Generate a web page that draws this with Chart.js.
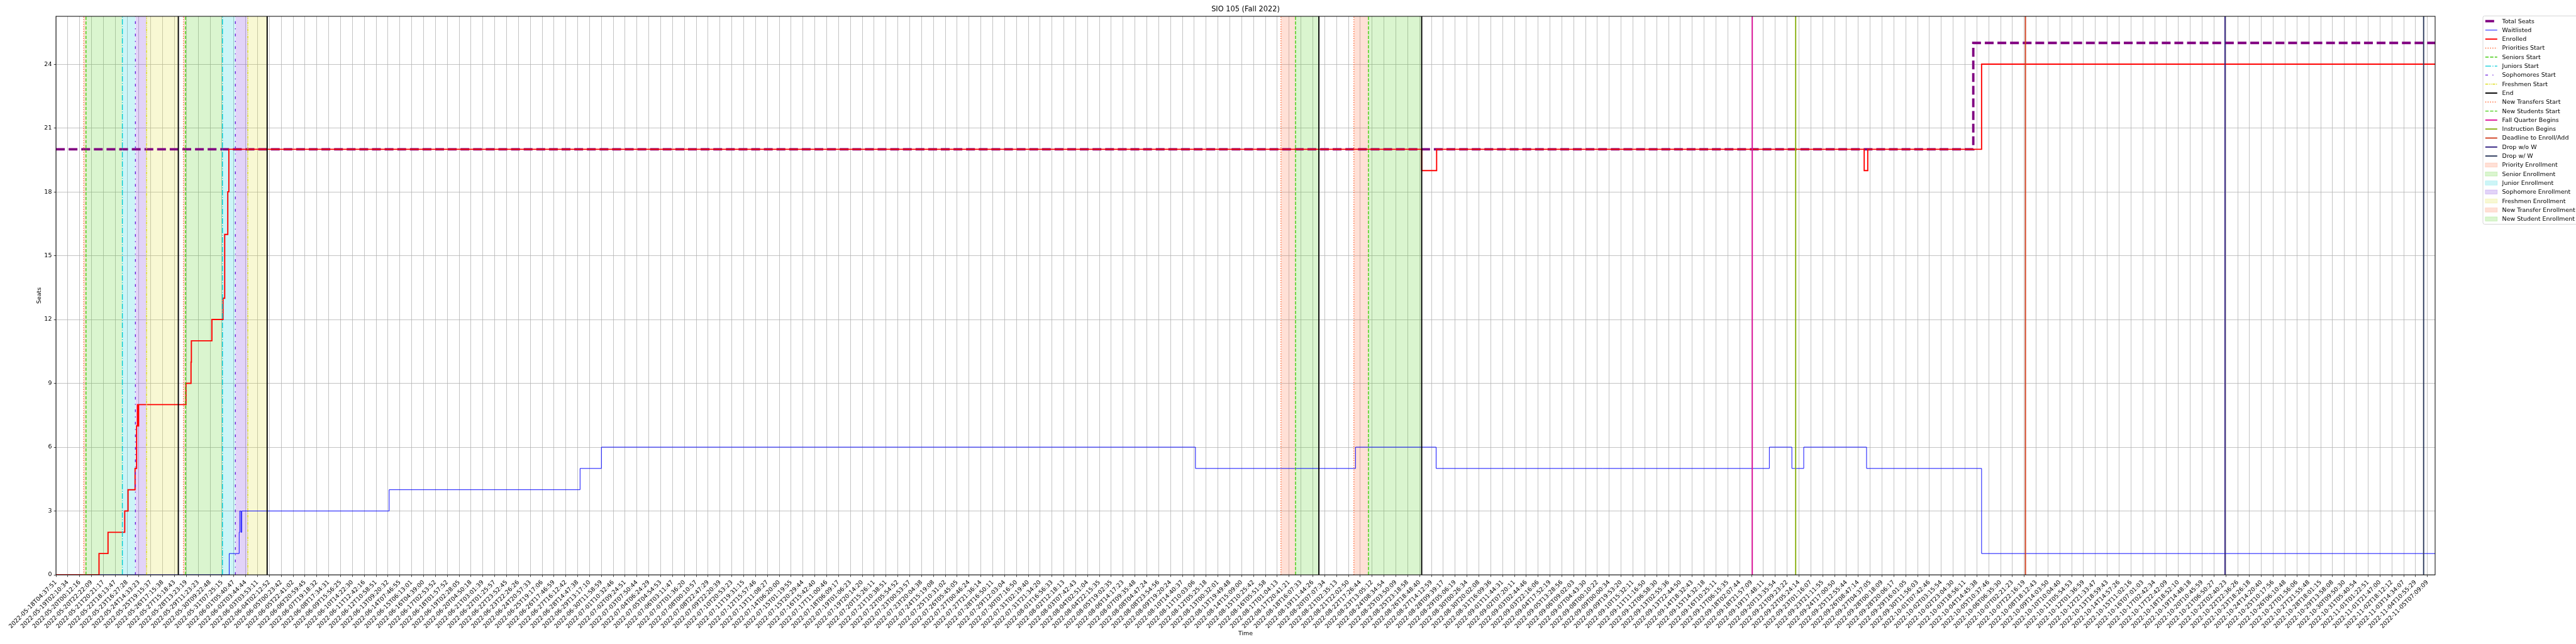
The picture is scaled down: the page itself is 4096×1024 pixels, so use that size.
<!DOCTYPE html>
<html>
<head>
<meta charset="utf-8">
<title>SIO 105 (Fall 2022)</title>
<script src="https://cdn.jsdelivr.net/npm/chart.js@4.4.1/dist/chart.umd.min.js"></script>
<style>
  html, body { margin: 0; padding: 0; background: #fff; }
  canvas { display: block; }
</style>
</head>
<body>
<canvas id="chart" width="4096" height="1024"></canvas>
<script>
/* global Chart */

// x positions are in "tick" units: tick i sits at x = i
const tickLabels = [
  "2022-05-18T04:37:51","2022-05-19T02:10:34","2022-05-20T00:12:16","2022-05-20T22:22:09","2022-05-21T20:21:17",
  "2022-05-22T18:13:47","2022-05-23T16:27:28","2022-05-24T14:33:23","2022-05-25T19:15:37","2022-05-26T17:15:38",
  "2022-05-27T15:18:43","2022-05-28T13:23:19","2022-05-29T11:23:23","2022-05-30T09:22:48","2022-05-31T07:25:15",
  "2022-06-01T05:40:47","2022-06-02T03:44:44","2022-06-03T03:53:11","2022-06-04T02:12:52","2022-06-05T00:23:42",
  "2022-06-05T22:41:02","2022-06-06T20:59:45","2022-06-07T19:18:32","2022-06-08T17:34:31","2022-06-09T15:56:25",
  "2022-06-10T14:22:30","2022-06-11T12:42:16","2022-06-12T10:58:51","2022-06-13T09:20:32","2022-06-14T07:46:55",
  "2022-06-15T06:13:01","2022-06-16T04:39:00","2022-06-17T02:53:52","2022-06-18T01:57:52","2022-06-19T02:28:05",
  "2022-06-20T04:50:18","2022-06-21T03:01:39","2022-06-22T01:25:57","2022-06-22T23:52:45","2022-06-23T22:26:26",
  "2022-06-24T20:57:33","2022-06-25T19:17:06","2022-06-26T17:46:59","2022-06-27T16:12:42","2022-06-28T14:47:38",
  "2022-06-29T13:17:10","2022-06-30T11:58:59","2022-07-01T10:32:46","2022-07-02T09:24:51","2022-07-03T07:50:44",
  "2022-07-04T06:24:29","2022-07-05T04:54:53","2022-07-06T03:11:47","2022-07-07T01:36:20","2022-07-08T00:10:57",
  "2022-07-08T22:47:29","2022-07-09T22:20:39","2022-07-10T20:53:23","2022-07-11T19:31:15","2022-07-12T15:57:46",
  "2022-07-13T11:08:27","2022-07-14T06:20:00","2022-07-15T01:19:55","2022-07-15T20:29:44","2022-07-16T15:42:40",
  "2022-07-17T11:00:46","2022-07-18T06:09:17","2022-07-19T01:06:23","2022-07-19T20:14:20","2022-07-20T15:26:11",
  "2022-07-21T10:38:51","2022-07-22T05:54:52","2022-07-23T00:53:57","2022-07-23T20:04:38","2022-07-24T15:19:08",
  "2022-07-25T10:31:02","2022-07-26T05:45:05","2022-07-27T00:46:24","2022-07-27T21:36:14","2022-07-28T16:50:11",
  "2022-07-29T12:03:04","2022-07-30T07:16:50","2022-07-31T02:19:40","2022-07-31T21:34:20","2022-08-01T16:56:33",
  "2022-08-02T12:18:13","2022-08-03T07:42:43","2022-08-04T02:51:04","2022-08-04T22:15:35","2022-08-05T19:02:35",
  "2022-08-06T14:17:23","2022-08-07T09:35:48","2022-08-08T04:47:24","2022-08-08T23:54:56","2022-08-09T19:20:24",
  "2022-08-10T14:40:37","2022-08-11T10:03:06","2022-08-12T05:25:18","2022-08-13T00:32:01","2022-08-13T19:49:48",
  "2022-08-14T15:09:00","2022-08-15T10:25:42","2022-08-16T05:51:58","2022-08-17T01:04:13","2022-08-17T20:41:21",
  "2022-08-18T16:07:33","2022-08-19T11:44:26","2022-08-20T07:07:34","2022-08-21T02:35:13","2022-08-21T22:02:50",
  "2022-08-22T17:26:44","2022-08-23T13:05:12","2022-08-24T08:34:54","2022-08-25T03:50:09","2022-08-25T23:18:58",
  "2022-08-26T18:48:40","2022-08-27T14:12:59","2022-08-28T09:39:17","2022-08-29T05:06:19","2022-08-30T00:26:34",
  "2022-08-30T20:02:08","2022-08-31T16:09:36","2022-09-01T11:44:31","2022-09-02T07:20:11","2022-09-03T02:44:46",
  "2022-09-03T22:16:06","2022-09-04T17:52:19","2022-09-05T13:28:56","2022-09-06T09:02:03","2022-09-07T04:43:30",
  "2022-09-08T00:10:22","2022-09-09T00:00:34","2022-09-09T19:53:20","2022-09-10T15:32:11","2022-09-11T11:16:50",
  "2022-09-12T06:58:30","2022-09-13T02:55:36","2022-09-13T22:44:50","2022-09-14T18:32:43","2022-09-15T14:32:18",
  "2022-09-16T10:25:11","2022-09-17T06:15:35","2022-09-18T02:07:44","2022-09-18T21:57:09","2022-09-19T17:48:11",
  "2022-09-20T13:35:54","2022-09-21T09:23:22","2022-09-22T05:24:14","2022-09-23T01:16:07","2022-09-23T21:11:55",
  "2022-09-24T17:00:50","2022-09-25T12:55:44","2022-09-26T08:47:14","2022-09-27T04:37:05","2022-09-28T00:18:09",
  "2022-09-28T20:06:17","2022-09-29T16:01:05","2022-09-30T11:56:03","2022-10-01T07:42:46","2022-10-02T03:15:54",
  "2022-10-02T23:04:30","2022-10-03T18:56:11","2022-10-04T14:45:38","2022-10-05T10:37:46","2022-10-06T06:35:30",
  "2022-10-07T02:21:23","2022-10-07T22:16:19","2022-10-08T18:12:43","2022-10-09T14:03:50","2022-10-10T10:04:40",
  "2022-10-11T05:54:53","2022-10-12T01:36:59","2022-10-12T21:33:47","2022-10-13T18:59:43","2022-10-14T14:57:26",
  "2022-10-15T11:02:16","2022-10-16T07:01:03","2022-10-17T02:42:34","2022-10-17T22:42:09","2022-10-18T18:52:10",
  "2022-10-19T14:48:18","2022-10-20T10:45:59","2022-10-21T06:50:27","2022-10-22T02:40:23","2022-10-22T22:36:26",
  "2022-10-23T18:26:18","2022-10-24T14:20:40","2022-10-25T10:17:56","2022-10-26T06:10:48","2022-10-27T01:56:06",
  "2022-10-27T21:55:48","2022-10-28T18:01:15","2022-10-29T13:58:08","2022-10-30T09:50:30","2022-10-31T05:40:54",
  "2022-11-01T01:22:51","2022-11-01T21:47:00","2022-11-02T18:12:12","2022-11-03T14:34:07","2022-11-04T10:55:29",
  "2022-11-05T07:09:09"
];
const yTicks = [0, 3, 6, 9, 12, 15, 18, 21, 24];
const X_MAX = 200.65;
const Y_MAX = 26.25;

// series (step changes)
const seatsX = [0, 161.7, X_MAX];
const seatsY = [20, 25, 25];
const enrolledX = [0, 3.63, 4.39, 5.80, 6.08, 6.67, 6.80, 6.87, 6.92, 6.97, 10.96, 11.39, 11.42, 13.15, 14.09, 14.23, 14.49, 14.58, 115.18, 116.44, 152.5, 152.8, 162.4, X_MAX];
const enrolledY = [0, 1, 2, 3, 4, 5, 7, 8, 7, 8, 9, 10, 11, 12, 13, 16, 18, 20, 19, 20, 19, 20, 24, 24];
const waitlistX = [0, 14.61, 15.45, 15.50, 15.60, 15.67, 28.1, 44.2, 46.0, 96.1, 109.6, 116.4, 144.5, 146.4, 147.4, 152.7, 162.4, X_MAX];
const waitlistY = [0, 1, 2, 3, 2, 3, 4, 5, 6, 5, 6, 5, 6, 5, 6, 5, 1, 1];

// event markers
const prioritiesStart = [2.34, 10.75];
const seniorsStart = [2.53, 10.92];
const juniorsStart = [5.60, 14.04];
const sophomoresStart = [6.70, 15.13];
const freshmenStart = [7.64, 16.18];
const endLines = [10.32, 17.81, 106.51, 115.18];
const newTransfersStart = [103.31, 109.46];
const newStudentsStart = [104.54, 110.69];
const fallQuarterBegins = [143.06];
const instructionBegins = [146.72];
const deadlineAdd = [166.1];
const dropNoW = [182.93];
const dropW = [199.68];

function steps(xs, ys) {
  return xs.map((x, i) => ({x: x, y: ys[i]}));
}
function vlines(xs) {
  let pts = [];
  xs.forEach(x => { pts.push({x: x, y: 0}, {x: x, y: Y_MAX}, {x: x, y: null}); });
  return pts;
}
function spans(a, b) {
  let pts = [];
  a.forEach((x, i) => { pts.push({x: x, y: Y_MAX}, {x: b[i], y: Y_MAX}, {x: b[i], y: null}); });
  return pts;
}

function lineDs(label, data, color, width, dash, order) {
  return {label, data, borderColor: color, borderWidth: width, borderDash: dash || [],
    pointRadius: 0, fill: false, spanGaps: false, order: order, borderCapStyle: 'butt'};
}
function spanDs(label, data, rgb) {
  return {label, data, borderColor: 'rgba(0,0,0,0)', borderWidth: 0,
    backgroundColor: 'rgba(' + rgb + ',0.2)', _edge: 'rgba(' + rgb + ',0.25)',
    pointRadius: 0, fill: 'start', spanGaps: false, order: 100};
}

const cOrange = '255,102,51', cGreen = '68,204,17', cCyan = '0,204,214', cPurple = '110,34,221', cYellow = '221,221,34';

let datasets = [
  spanDs('Priority Enrollment', spans(prioritiesStart, seniorsStart), cOrange),
  spanDs('Senior Enrollment', spans(seniorsStart, juniorsStart), cGreen),
  spanDs('Junior Enrollment', spans(juniorsStart, sophomoresStart), cCyan),
  spanDs('Sophomore Enrollment', spans(sophomoresStart, freshmenStart), cPurple),
  spanDs('Freshmen Enrollment', spans(freshmenStart, endLines.slice(0, 2)), cYellow),
  spanDs('New Transfer Enrollment', spans(newTransfersStart, newStudentsStart), cOrange),
  spanDs('New Student Enrollment', spans(newStudentsStart, endLines.slice(2)), cGreen),

  Object.assign(lineDs('Total Seats', steps(seatsX, seatsY), '#800080', 3.79, [14.03, 6.07], 50), {stepped: true}),
  Object.assign(lineDs('Waitlisted', steps(waitlistX, waitlistY), '#0000ff', 0.95, [], 40), {stepped: true}),
  Object.assign(lineDs('Enrolled', steps(enrolledX, enrolledY), '#ff0000', 1.9, [], 30), {stepped: true}),

  lineDs('Priorities Start', vlines(prioritiesStart), 'rgb(' + cOrange + ')', 1.42, [1.42, 2.35], 10),
  lineDs('Seniors Start', vlines(seniorsStart), 'rgb(' + cGreen + ')', 1.42, [5.26, 2.28], 10),
  lineDs('Juniors Start', vlines(juniorsStart), 'rgb(' + cCyan + ')', 1.42, [9.1, 2.28, 1.42, 2.28], 10),
  lineDs('Sophomores Start', vlines(sophomoresStart), 'rgb(' + cPurple + ')', 1.42, [4.27, 7.11, 1.42, 7.11], 10),
  lineDs('Freshmen Start', vlines(freshmenStart), 'rgb(' + cYellow + ')', 1.42, [4.27, 1.42, 1.42, 1.42, 1.42, 1.42], 10),
  lineDs('End', vlines(endLines), '#000000', 1.9, [], 10),
  lineDs('New Transfers Start', vlines(newTransfersStart), 'rgb(' + cOrange + ')', 1.42, [1.42, 2.35], 10),
  lineDs('New Students Start', vlines(newStudentsStart), 'rgb(' + cGreen + ')', 1.42, [5.26, 2.28], 10),
  lineDs('Fall Quarter Begins', vlines(fallQuarterBegins), '#dd1199', 1.9, [], 10),
  lineDs('Instruction Begins', vlines(instructionBegins), '#88b011', 1.9, [], 10),
  lineDs('Deadline to Enroll/Add', vlines(deadlineAdd), '#d04020', 1.9, [], 10),
  lineDs('Drop w/o W', vlines(dropNoW), '#302080', 1.9, [], 10),
  lineDs('Drop w/ W', vlines(dropW), '#2c3a5c', 1.9, [], 10)
];

const legendOrder = ['Total Seats', 'Waitlisted', 'Enrolled', 'Priorities Start', 'Seniors Start', 'Juniors Start',
  'Sophomores Start', 'Freshmen Start', 'End', 'New Transfers Start', 'New Students Start', 'Fall Quarter Begins',
  'Instruction Begins', 'Deadline to Enroll/Add', 'Drop w/o W', 'Drop w/ W', 'Priority Enrollment',
  'Senior Enrollment', 'Junior Enrollment', 'Sophomore Enrollment', 'Freshmen Enrollment',
  'New Transfer Enrollment', 'New Student Enrollment'];

// axes frame drawn over the lines, like matplotlib spines
const framePlugin = {
  id: 'frame',
  afterDatasetsDraw(chart) {
    const a = chart.chartArea, ctx = chart.ctx;
    ctx.save();
    ctx.strokeStyle = '#000';
    ctx.lineWidth = 1;
    ctx.strokeRect(a.left, a.top, a.right - a.left, a.bottom - a.top);
    ctx.restore();
  }
};

// legend box sitting right of the axes (partly cut by the canvas edge)
const sideLegend = {
  id: 'sideLegend',
  afterDraw(chart) {
    const ctx = chart.ctx;
    const x0 = 3948, y0 = 25.3, pitch = 14.3, firstY = 33.6;
    const h = (firstY - y0) * 2 + (legendOrder.length - 1) * pitch;
    ctx.save();
    ctx.beginPath();
    ctx.roundRect(x0, y0, 220, h, 2.7);
    ctx.fillStyle = 'rgba(255,255,255,0.8)';
    ctx.fill();
    ctx.strokeStyle = '#cccccc';
    ctx.lineWidth = 0.8;
    ctx.stroke();
    ctx.font = '9.48px "DejaVu Sans"';
    ctx.textBaseline = 'middle';
    ctx.textAlign = 'left';
    legendOrder.forEach((label, i) => {
      const ds = chart.data.datasets.find(d => d.label === label);
      const cy = firstY + i * pitch;
      const hx = x0 + 3.8, hw = 19;
      if (ds.fill) {
        ctx.fillStyle = ds.backgroundColor;
        ctx.fillRect(hx, cy - 3.3, hw, 6.6);
        ctx.strokeStyle = ds._edge;
        ctx.lineWidth = 0.7;
        ctx.setLineDash([]);
        ctx.strokeRect(hx, cy - 3.3, hw, 6.6);
      } else {
        ctx.strokeStyle = ds.borderColor;
        ctx.lineWidth = ds.borderWidth;
        ctx.lineCap = 'butt';
        ctx.setLineDash(ds.borderDash);
        ctx.beginPath();
        ctx.moveTo(hx, cy);
        ctx.lineTo(hx + hw, cy);
        ctx.stroke();
      }
      ctx.setLineDash([]);
      ctx.fillStyle = '#000';
      ctx.fillText(label, x0 + 30.6, cy + 0.5);
    });
    ctx.restore();
  }
};

Chart.defaults.font.family = '"DejaVu Sans", sans-serif';
Chart.defaults.font.size = 9.48;
Chart.defaults.color = '#000';

let ctx = document.getElementById('chart').getContext('2d');

let chart = new Chart(ctx, {
  type: 'line',
  data: {datasets: datasets},
  options: {
    responsive: false,
    animation: false,
    devicePixelRatio: 1,
    events: [],
    layout: {padding: {left: 0, right: 224, top: 0, bottom: 0}},
    plugins: {
      legend: {display: false},
      tooltip: {enabled: false},
      title: {
        display: true,
        text: 'SIO 105 (Fall 2022)',
        fullSize: false,
        color: '#000',
        font: {size: 11.38, weight: 'normal'},
        padding: {top: 8.7, bottom: 3.6}
      }
    },
    scales: {
      x: {
        type: 'linear',
        min: 0,
        max: X_MAX,
        afterBuildTicks: scale => { scale.ticks = tickLabels.map((t, i) => ({value: i})); },
        afterFit: scale => { scale.height = 110; scale.paddingLeft = 0; scale.paddingRight = 0; },
        ticks: {
          autoSkip: false,
          minRotation: 45,
          maxRotation: 45,
          padding: 3.3,
          color: '#000',
          callback: v => tickLabels[v]
        },
        grid: {color: '#b0b0b0', lineWidth: 0.76, tickColor: '#000', tickLength: 3.3, tickWidth: 0.76},
        border: {display: false},
        title: {display: true, text: 'Time', color: '#000', padding: {top: 0, bottom: 10.6}}
      },
      y: {
        type: 'linear',
        min: 0,
        max: Y_MAX,
        afterBuildTicks: scale => { scale.ticks = yTicks.map(v => ({value: v})); },
        afterFit: scale => { scale.width = 89; scale.paddingTop = 0; scale.paddingBottom = 0; },
        ticks: {padding: 3.3, color: '#000'},
        grid: {color: '#b0b0b0', lineWidth: 0.76, tickColor: '#000', tickLength: 3.3, tickWidth: 0.76},
        border: {display: false},
        title: {display: true, text: 'Seats', color: '#000', padding: {top: 57.1, bottom: 0}}
      }
    }
  },
  plugins: [framePlugin, sideLegend]
});
</script>
</body>
</html>
